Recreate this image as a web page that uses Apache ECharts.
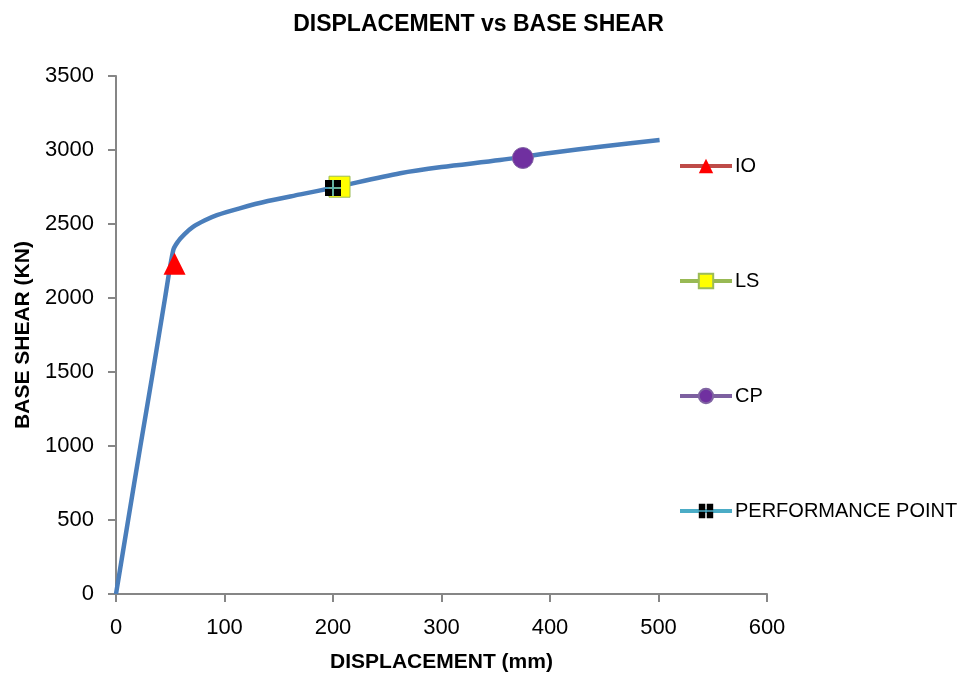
<!DOCTYPE html>
<html>
<head>
<meta charset="utf-8">
<script src="https://cdn.jsdelivr.net/npm/echarts@6/dist/echarts.min.js"></script>
<style>html,body{margin:0;padding:0;background:#fff}#c{width:957px;height:674px}</style>
</head>
<body>
<div id="c"></div>
<script>
// Pushover curve (displacement mm, base shear kN)
const curveX = [0, 11, 22.5, 34, 45.2, 52.8, 57, 63, 71, 82, 93, 114, 140, 170, 200, 262, 300, 354, 400, 450, 501];
const curveY = [0, 490, 1000, 1500, 2000, 2324, 2380, 2430, 2480, 2525, 2560, 2606, 2655, 2700, 2745, 2843, 2885, 2932, 2980, 3025, 3068];
// Performance levels
const pointNames = ['IO', 'LS', 'CP', 'PERFORMANCE POINT'];
const pointX = [54, 206, 375, 200];
const pointY = [2232, 2752, 2946, 2743];
const xTicks = [0, 100, 200, 300, 400, 500, 600];
const yTicks = [0, 500, 1000, 1500, 2000, 2500, 3000, 3500];

const FONT = '"Liberation Sans", Arial, sans-serif';
const chart = echarts.init(document.getElementById('c'));
const curve = curveX.map((x, i) => [x, curveY[i]]);
const ppPath = 'path://M0,0H9V9H0Z M11,0H20V9H11Z M0,11H9V20H0Z M11,11H20V20H11Z';
const crossPath = 'path://M9,0H11V9H20V11H11V20H9V11H0V9H9Z';
const markerDefs = [
  { symbol: 'triangle', size: 22, line: '#be4b48', fill: '#ff0000', border: '#ff0000' },
  { symbol: 'rect', size: 21, line: '#98b954', fill: '#ffff00', border: '#9bbb59' },
  { symbol: 'circle', size: 21, line: '#7d60a0', fill: '#7030a0', border: '#8064a2' },
  { symbol: ppPath, size: 16, line: '#4bacc6', fill: '#000000', border: '#000000' }
];
const markerSeries = pointNames.map((n, i) => ({
  name: n,
  type: 'line',
  data: [[pointX[i], pointY[i]]],
  symbol: markerDefs[i].symbol,
  symbolSize: markerDefs[i].size,
  showAllSymbol: true,
  z: 5 + (i === 3 ? 2 : 0),
  lineStyle: { color: markerDefs[i].line, width: 4 },
  itemStyle: { color: markerDefs[i].fill, borderColor: markerDefs[i].border, borderWidth: (i === 1 || i === 2) ? 1 : 0 },
  animation: false
}));
// cyan cross drawn over the performance point marker (not in legend)
markerSeries.push({
  name: 'ppCross', type: 'line',
  data: [[pointX[3], pointY[3]]],
  symbol: crossPath, symbolSize: 16, z: 8,
  itemStyle: { color: '#4bacc6', borderWidth: 0 },
  lineStyle: { width: 0 }
});

chart.setOption({
  animation: false,
  title: {
    text: 'DISPLACEMENT vs BASE SHEAR',
    left: 'center', top: 8,
    textStyle: { fontFamily: FONT, fontSize: 23, fontWeight: 'bold', color: '#000' }
  },
  grid: { left: 116, right: 190, top: 76, bottom: 80, containLabel: false, outerBoundsMode: 'none' },
  legend: {
    orient: 'vertical',
    left: 673, top: 151,
    itemGap: 95,
    itemWidth: 52, itemHeight: 18,
    lineStyle: { width: 4 },
    textStyle: { fontFamily: FONT, fontSize: 20, color: '#000', padding: [0, 0, 0, -2] },
    data: pointNames
  },
  xAxis: {
    type: 'value', min: 0, max: 600, interval: 100,
    name: 'DISPLACEMENT (mm)', nameLocation: 'middle', nameGap: 58,
    nameTextStyle: { fontFamily: FONT, fontSize: 21, fontWeight: 'bold', color: '#000' },
    axisLine: { show: true, lineStyle: { color: '#868686', width: 2 } },
    axisTick: { show: true, length: 8, lineStyle: { color: '#868686', width: 2 } },
    axisLabel: { fontFamily: FONT, fontSize: 22, color: '#000', margin: 23,
      formatter: v => xTicks.includes(v) ? String(v) : '' },
    splitLine: { show: false }
  },
  yAxis: {
    type: 'value', min: 0, max: 3500, interval: 500,
    name: 'BASE SHEAR (KN)', nameLocation: 'middle', nameGap: 82,
    nameTextStyle: { fontFamily: FONT, fontSize: 21, fontWeight: 'bold', color: '#000' },
    axisLine: { show: true, lineStyle: { color: '#868686', width: 2 } },
    axisTick: { show: true, length: 8, lineStyle: { color: '#868686', width: 2 } },
    axisLabel: { fontFamily: FONT, fontSize: 22, color: '#000', margin: 22,
      formatter: v => yTicks.includes(v) ? String(v) : '' },
    splitLine: { show: false }
  },
  series: [{
    name: 'Curve', type: 'line', data: curve, symbol: 'none', smooth: 0.3,
    lineStyle: { color: '#4a7ebb', width: 4.5 }, z: 3
  }].concat(markerSeries)
});
</script>
</body>
</html>
